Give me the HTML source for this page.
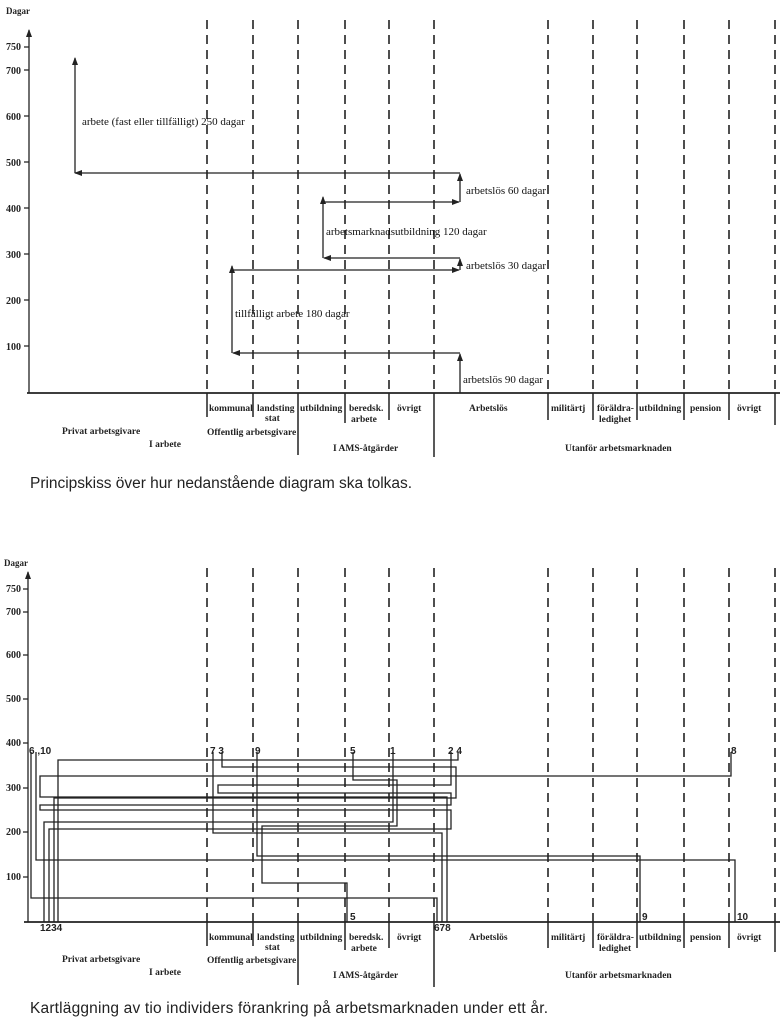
<!DOCTYPE html>
<html><head><meta charset="utf-8"><style>
body{margin:0;background:#fff;width:780px;height:1024px;overflow:hidden}
svg{display:block}
.s{font-family:"Liberation Serif",serif;font-size:10px;font-weight:bold;fill:#222}
.t{font-family:"Liberation Serif",serif;font-size:11px;fill:#111}
.a{font-family:"Liberation Sans",sans-serif;font-size:10px;font-weight:bold;fill:#222}
.cap{font-family:"Liberation Sans",sans-serif;font-size:15.5px;fill:#222}
.d{stroke:#222;stroke-width:1.6;stroke-dasharray:9,6;fill:none}
.l{stroke:#222;stroke-width:1.3;fill:none}
</style></head><body>
<svg width="780" height="1024" viewBox="0 0 780 1024">
<defs><marker id="ar" markerWidth="8" markerHeight="8" refX="7" refY="4" orient="auto" markerUnits="userSpaceOnUse"><path d="M0,1 L8,4 L0,7 Z" fill="#222"/></marker></defs>

<!-- TOP CHART -->
<text x="6" y="14" class="s" style="font-size:9px">Dagar</text>
<line x1="29" y1="393" x2="29" y2="30" class="l" marker-end="url(#ar)"/>
<line x1="27" y1="393" x2="780" y2="393" class="l" style="stroke-width:1.8"/>
<g class="s" text-anchor="end">
<text x="21" y="50">750</text><text x="21" y="74">700</text><text x="21" y="120">600</text><text x="21" y="166">500</text><text x="21" y="212">400</text><text x="21" y="258">300</text><text x="21" y="304">200</text><text x="21" y="350">100</text>
</g>
<g class="l"><path d="M24,47H29M24,70H29M24,116H29M24,162H29M24,208H29M24,254H29M24,300H29M24,346H29"/></g>
<g class="d">
<path d="M207,20V393M253,20V393M298,20V393M345,20V393M389,20V393M434,20V393M548,20V393M593,20V393M637,20V393M684,20V393M729,20V393M775,20V393"/>
</g>
<g class="l" style="stroke-width:1.5">
<path d="M207,393V417M253,393V417M298,393V455M345,393V423M389,393V420M434,393V457M548,393V420M593,393V420M637,393V420M684,393V420M729,393V420M775,393V425"/>
</g>
<g class="l">
<line x1="75" y1="173" x2="75" y2="58" marker-end="url(#ar)"/>
<line x1="460" y1="173" x2="75" y2="173" marker-end="url(#ar)"/>
<line x1="460" y1="202" x2="460" y2="174" marker-end="url(#ar)"/>
<line x1="323" y1="202" x2="459" y2="202" marker-end="url(#ar)"/>
<line x1="323" y1="258" x2="323" y2="197" marker-end="url(#ar)"/>
<line x1="460" y1="258" x2="324" y2="258" marker-end="url(#ar)"/>
<line x1="460" y1="270" x2="460" y2="259" marker-end="url(#ar)"/>
<line x1="232" y1="270" x2="459" y2="270" marker-end="url(#ar)"/>
<line x1="232" y1="353" x2="232" y2="266" marker-end="url(#ar)"/>
<line x1="460" y1="353" x2="233" y2="353" marker-end="url(#ar)"/>
<line x1="460" y1="393" x2="460" y2="354" marker-end="url(#ar)"/>
</g>
<g class="t">
<text x="82" y="125">arbete (fast eller tillfälligt) 250 dagar</text>
<text x="466" y="194">arbetslös 60 dagar</text>
<text x="326" y="235">arbetsmarknadsutbildning 120 dagar</text>
<text x="466" y="269">arbetslös 30 dagar</text>
<text x="235" y="317">tillfälligt arbete 180 dagar</text>
<text x="463" y="383">arbetslös 90 dagar</text>
</g>
<g class="s" style="font-size:9.5px">
<text x="209" y="411">kommunal</text><text x="257" y="411">landsting</text><text x="265" y="421">stat</text>
<text x="300" y="411">utbildning</text><text x="349" y="411">beredsk.</text><text x="351" y="422">arbete</text><text x="397" y="411">övrigt</text>
<text x="469" y="411">Arbetslös</text><text x="551" y="411">militärtj</text><text x="597" y="411">föräldra-</text><text x="599" y="422">ledighet</text>
<text x="639" y="411">utbildning</text><text x="690" y="411">pension</text><text x="737" y="411">övrigt</text>
<text x="62" y="434">Privat arbetsgivare</text><text x="149" y="447">I arbete</text>
<text x="207" y="435">Offentlig arbetsgivare</text><text x="333" y="451">I AMS-åtgärder</text><text x="565" y="451">Utanför arbetsmarknaden</text>
</g>
<text x="30" y="488" class="cap" textLength="382">Principskiss över hur nedanstående diagram ska tolkas.</text>

<!-- BOTTOM CHART -->
<text x="4" y="566" class="s" style="font-size:9px">Dagar</text>
<line x1="28" y1="922" x2="28" y2="572" class="l" marker-end="url(#ar)"/>
<line x1="24" y1="922" x2="780" y2="922" class="l" style="stroke-width:1.8"/>
<g class="s" text-anchor="end">
<text x="21" y="592">750</text><text x="21" y="615">700</text><text x="21" y="658">600</text><text x="21" y="702">500</text><text x="21" y="746">400</text><text x="21" y="791">300</text><text x="21" y="835">200</text><text x="21" y="880">100</text>
</g>
<g class="l"><path d="M23,589H28M23,612H28M23,655H28M23,699H28M23,743H28M23,788H28M23,832H28M23,877H28"/></g>
<g class="d">
<path d="M207,568V922M253,568V922M298,568V922M345,568V922M389,568V922M434,568V922M548,568V922M593,568V922M637,568V922M684,568V922M729,568V922M775,568V922"/>
</g>
<g class="l" style="stroke-width:1.5">
<path d="M207,922V946M253,922V946M298,922V985M345,922V950M389,922V948M434,922V987M548,922V948M593,922V948M637,922V948M684,922V948M729,922V948M775,922V952"/>
</g>
<g class="l">
<path d="M44,922V822H393V752"/>
<path d="M451,752V785H218V793H451V805H40V810H451V829H49V922"/>
<path d="M222,752V767H456V798H54V922"/>
<path d="M458,752V760H58V922"/>
<path d="M353,752V780H397V826H262V883H347V922"/>
<path d="M213,752V833H442V922"/>
<path d="M731,752V776H40V797H447V922"/>
<path d="M257,752V856H640V922"/>
<path d="M36,752V860H735V922"/>
<path d="M31,752V898H437V922"/>
</g>
<g class="a">
<text x="29" y="754">6 ,10</text><text x="210" y="754">7 3</text><text x="255" y="754">9</text><text x="350" y="754">5</text><text x="390" y="754">1</text><text x="448" y="754">2 4</text><text x="731" y="754">8</text>
<text x="40" y="931">1234</text><text x="350" y="920">5</text><text x="434" y="931">678</text><text x="642" y="920">9</text><text x="737" y="920">10</text>
</g>
<g class="s" style="font-size:9.5px">
<text x="209" y="940">kommunal</text><text x="257" y="940">landsting</text><text x="265" y="950">stat</text>
<text x="300" y="940">utbildning</text><text x="349" y="940">beredsk.</text><text x="351" y="951">arbete</text><text x="397" y="940">övrigt</text>
<text x="469" y="940">Arbetslös</text><text x="551" y="940">militärtj</text><text x="597" y="940">föräldra-</text><text x="599" y="951">ledighet</text>
<text x="639" y="940">utbildning</text><text x="690" y="940">pension</text><text x="737" y="940">övrigt</text>
<text x="62" y="962">Privat arbetsgivare</text><text x="149" y="975">I arbete</text>
<text x="207" y="963">Offentlig arbetsgivare</text><text x="333" y="978">I AMS-åtgärder</text><text x="565" y="978">Utanför arbetsmarknaden</text>
</g>
<text x="30" y="1013" class="cap" textLength="518">Kartläggning av tio individers förankring på arbetsmarknaden under ett år.</text>
</svg>
</body></html>
